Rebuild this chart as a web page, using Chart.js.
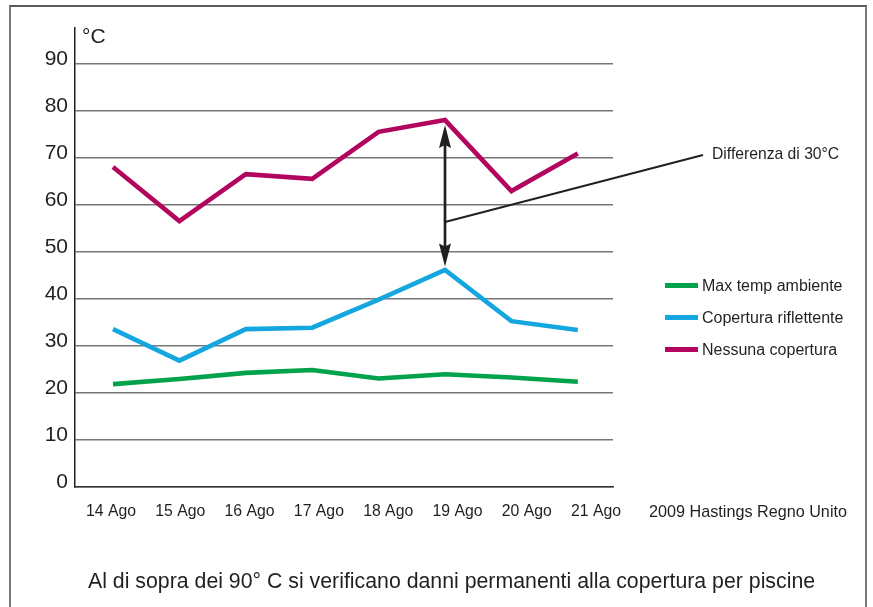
<!DOCTYPE html>
<html>
<head>
<meta charset="utf-8">
<script src="https://cdn.jsdelivr.net/npm/chart.js@4/dist/chart.umd.min.js"></script>
<style>
  html, body { margin: 0; padding: 0; background: #fff; }
  #wrap { position: relative; width: 873px; height: 607px; overflow: hidden; background: #fff;
          font-family: "Liberation Sans", Arial, Helvetica, sans-serif; color: #231f20; }
  #frame { position: absolute; left: 9px; top: 5px; width: 858px; height: 640px;
           border: 2px solid #7a7a7a; border-top-color: #5a5a5a; box-sizing: border-box; }
  canvas { position: absolute; left: 0; top: 0; }
  .t { position: absolute; white-space: nowrap; line-height: 1; }
  .leg { position: absolute; left: 665px; height: 5px; width: 33px; }
</style>
</head>
<body>
<div id="wrap">
  <div id="frame"></div>
  <canvas id="c" width="873" height="607"></canvas>
  <div class="t" style="left:82px; top:25px; font-size:21px;">°C</div>
  <div class="t" style="left:712px; top:146.3px; font-size:15.7px;">Differenza di 30°C</div>
  <div class="t" style="left:649px; top:503px; font-size:16.2px;">2009 Hastings Regno Unito</div>
  <div class="t" style="left:88px; top:570.5px; font-size:21.3px;">Al di sopra dei 90° C si verificano danni permanenti alla copertura per piscine</div>
  <div id="legend"></div>
</div>
<script>
// ---- data ----
const categories = ["14 Ago", "15 Ago", "16 Ago", "17 Ago", "18 Ago", "19 Ago", "20 Ago", "21 Ago"];
const maxTempAmbiente = [21.9, 23.0, 24.3, 24.9, 23.1, 24.0, 23.3, 22.4];
const coperturaRiflettente = [33.6, 26.9, 33.6, 33.9, 39.9, 46.2, 35.3, 33.4];
const nessunaCopertura = [68.1, 56.6, 66.6, 65.6, 75.6, 78.1, 63.0, 71.0];
const yTicks = [0, 10, 20, 30, 40, 50, 60, 70, 80, 90];
const seriesNames = ["Max temp ambiente", "Copertura riflettente", "Nessuna copertura"];

const colors = ["#00a24b", "#14a6de", "#b2065e"];
const seriesData = [maxTempAmbiente, coperturaRiflettente, nessunaCopertura];

// HTML legend
const legendTops = [285.5, 317.5, 349.5];
const legEl = document.getElementById('legend');
seriesNames.forEach((n, i) => {
  const ln = document.createElement('div');
  ln.className = 'leg';
  ln.style.top = (legendTops[i] - 2.5) + 'px';
  ln.style.background = colors[i];
  legEl.appendChild(ln);
  const tx = document.createElement('div');
  tx.className = 't';
  tx.style.left = '702px';
  tx.style.top = (legendTops[i] - 7.8) + 'px';
  tx.style.fontSize = '16px';
  tx.textContent = n;
  legEl.appendChild(tx);
});

const arrowPlugin = {
  id: 'arrow',
  afterDatasetsDraw(chart) {
    const ctx = chart.ctx;
    const xs = chart.scales.x, ys = chart.scales.y;
    const idx = nessunaCopertura.indexOf(Math.max(...nessunaCopertura));
    const x = xs.getPixelForValue(idx);
    const yTop = ys.getPixelForValue(nessunaCopertura[idx]) + 5;
    const yBot = ys.getPixelForValue(coperturaRiflettente[idx]) - 3.5;
    const hl = 23, hw = 6, notch = 3;
    ctx.save();
    ctx.strokeStyle = '#231f20';
    ctx.fillStyle = '#231f20';
    ctx.lineWidth = 2.7;
    ctx.beginPath();
    ctx.moveTo(x, yTop + hl - 4);
    ctx.lineTo(x, yBot - hl + 4);
    ctx.stroke();
    ctx.beginPath();
    ctx.moveTo(x, yTop);
    ctx.lineTo(x + hw, yTop + hl);
    ctx.lineTo(x, yTop + hl - notch);
    ctx.lineTo(x - hw, yTop + hl);
    ctx.closePath();
    ctx.fill();
    ctx.beginPath();
    ctx.moveTo(x, yBot);
    ctx.lineTo(x + hw, yBot - hl);
    ctx.lineTo(x, yBot - hl + notch);
    ctx.lineTo(x - hw, yBot - hl);
    ctx.closePath();
    ctx.fill();
    ctx.lineWidth = 2;
    ctx.beginPath();
    ctx.moveTo(x, ys.getPixelForValue(56.4));
    ctx.lineTo(703, 155);
    ctx.stroke();
    ctx.restore();
  }
};

const fontFam = '"Liberation Sans", Arial, sans-serif';

new Chart(document.getElementById('c'), {
  type: 'line',
  data: {
    datasets: seriesNames.map((n, i) => ({
      label: n,
      data: seriesData[i].map((v, j) => ({ x: j, y: v })),
      borderColor: colors[i],
      backgroundColor: colors[i],
      borderWidth: 4.6,
      pointRadius: 0,
      tension: 0,
      fill: false,
      borderJoinStyle: 'miter',
      borderCapStyle: 'butt'
    })).reverse()
  },
  options: {
    responsive: false,
    devicePixelRatio: 1,
    animation: false,
    events: [],
    layout: { padding: { left: 0, top: 28, right: 260, bottom: 80 } },
    plugins: { legend: { display: false }, tooltip: { enabled: false } },
    scales: {
      x: {
        type: 'linear',
        position: 'bottom',
        min: -0.572,
        max: 7.53,
        afterFit: (s) => { s.height = 0; },
        afterBuildTicks: (s) => { s.ticks = categories.map((c, i) => ({ value: i })); },
        grid: { display: false, drawTicks: false },
        border: { display: true, color: '#333', width: 1.5 },
        ticks: { display: false }
      },
      xLabels: {
        type: 'linear',
        position: 'bottom',
        min: -0.519,
        max: 7.244,
        afterFit: (s) => { s.height = 40; },
        afterBuildTicks: (s) => { s.ticks = categories.map((c, i) => ({ value: i })); },
        grid: { display: false, drawTicks: false },
        border: { display: false },
        ticks: {
          autoSkip: false,
          maxRotation: 0,
          padding: 15,
          color: '#231f20',
          font: { family: fontFam, size: 15.8 },
          callback: (v) => categories[v]
        }
      },
      y: {
        min: 0,
        max: 97.7,
        afterFit: (s) => { s.width = 75; },
        afterBuildTicks: (s) => { s.ticks = yTicks.map(v => ({ value: v })); },
        grid: { color: '#767676', lineWidth: 1.5, drawTicks: false },
        border: { display: true, color: '#231f20', width: 1.5 },
        ticks: {
          padding: 7,
          labelOffset: -5,
          color: '#231f20',
          font: { family: fontFam, size: 21 }
        }
      }
    }
  },
  plugins: [arrowPlugin]
});
</script>
</body>
</html>
